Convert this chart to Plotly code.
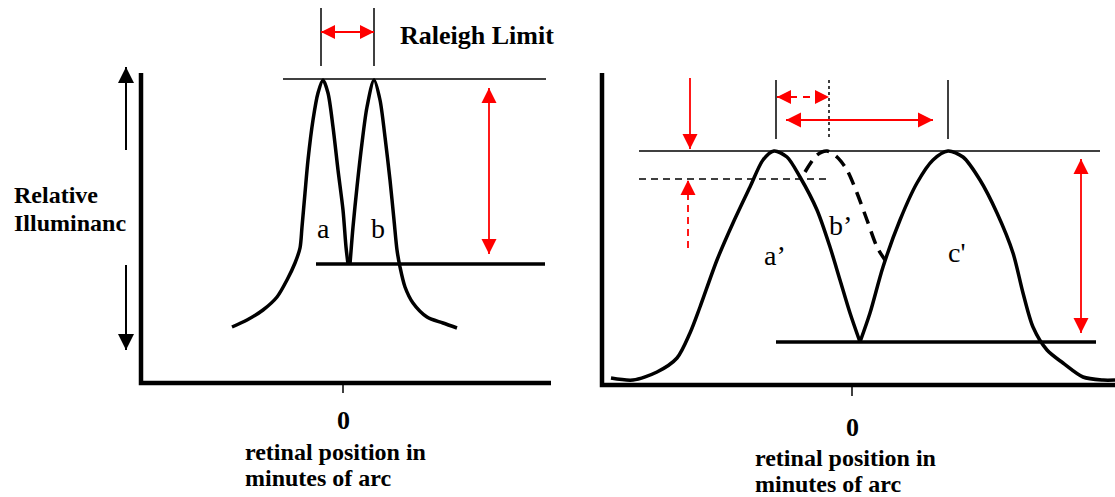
import plotly.graph_objects as go

# diagram drawn in page-pixel units (x to the right, y downward)
W, H = 1115, 497

# left panel: two narrow peaks a and b
peak_a_x = [232, 247, 263, 277, 287, 295, 300, 302, 305, 308, 313, 318, 323, 328, 333, 338, 343, 346, 348]
peak_a_y = [327, 320, 310, 297, 280, 263, 248, 227, 193, 160, 120, 93, 80, 93, 127, 170, 210, 247, 264]
peak_b_x = [350, 353, 357, 362, 367, 374, 380, 385, 390, 394, 397, 400, 405, 413, 427, 443, 457]
peak_b_y = [264, 227, 187, 143, 107, 80, 100, 137, 180, 220, 250, 267, 287, 303, 317, 323, 328]

# right panel: wide peaks a', c' and dashed b'
peak_a2_x = [611, 633, 657, 677, 690, 700, 717, 733, 750, 763, 774, 787, 800, 817, 830, 840, 850, 860]
peak_a2_y = [378, 380, 372, 358, 333, 307, 260, 223, 187, 160, 151, 157, 177, 210, 247, 280, 313, 342]
peak_c2_x = [860, 870, 883, 900, 917, 933, 948, 963, 980, 997, 1013, 1023, 1033, 1047, 1063, 1083, 1103, 1115]
peak_c2_y = [342, 313, 267, 220, 183, 160, 151, 157, 180, 213, 253, 293, 327, 350, 363, 377, 380, 380]
peak_b2_x = [805, 817, 827, 837, 847, 857, 867, 877, 885]
peak_b2_y = [172, 155, 151, 157, 170, 193, 220, 247, 260]

FONT = "Liberation Serif"
RED = "#ff0000"

fig = go.Figure()


def line(xs, ys, width=2, color="black", dash="solid", spline=False):
    fig.add_trace(go.Scatter(
        x=xs, y=ys, mode="lines",
        line=dict(color=color, width=width, dash=dash,
                  shape="spline" if spline else "linear", smoothing=0.8),
        hoverinfo="skip", showlegend=False))


def arrow(x0, y0, x1, y1, color=RED, width=1.8, dash="solid", both=False, size=14):
    # shaft + head(s) with the head tip sitting on the end point
    line([x0, x1], [y0, y1], width=width, color=color, dash=dash)
    def head(xa, ya, xb, yb):
        if xa == xb:
            return "arrow-down" if yb > ya else "arrow-up"
        return "arrow-right" if xb > xa else "arrow-left"
    xs, ys, syms = [x1], [y1], [head(x0, y0, x1, y1)]
    if both:
        xs.append(x0); ys.append(y0); syms.append(head(x1, y1, x0, y0))
    fig.add_trace(go.Scatter(
        x=xs, y=ys, mode="markers",
        marker=dict(symbol=syms, size=size, color=color, line=dict(width=0)),
        hoverinfo="skip", showlegend=False))


def text(x, y, s, size=24, bold=False, anchor="center"):
    fig.add_annotation(x=x, y=y, text=f"<b>{s}</b>" if bold else s, showarrow=False,
                       xanchor=anchor, yanchor="middle",
                       font=dict(family=FONT, size=size, color="black"))


# ---------- left panel ----------
line([141, 141, 551], [73, 383, 383], width=4.5)          # axes
line([343, 343], [383, 393], width=1.5)                   # zero tick
line([283, 546], [79, 79], width=1.5)                     # top reference
line([316, 545], [264, 264], width=3.5)                   # bottom reference
line([321, 321], [8, 66], width=1.5)
line([374, 374], [8, 66], width=1.5)
line(peak_a_x, peak_a_y, width=3.5, spline=True)
line(peak_b_x, peak_b_y, width=3.5, spline=True)
arrow(321, 32, 374, 32, both=True, size=14)
arrow(489, 88, 489, 254, both=True, size=15)
arrow(126, 150, 126, 67, color="black", width=2, size=16)
arrow(126, 265, 126, 350, color="black", width=2, size=16)

text(12, 195, "Relative", bold=True, anchor="left")
text(12, 223, "Illuminanc", bold=True, anchor="left")
text(398, 35, "Raleigh Limit", size=26, bold=True, anchor="left")
text(323, 228, "a", size=28)
text(378, 228, "b", size=28)
text(343, 420, "0", size=26, bold=True)
text(243, 452, "retinal position in", bold=True, anchor="left")
text(243, 478, "minutes of arc", bold=True, anchor="left")

# ---------- right panel ----------
line([602, 602, 1115], [73, 385, 385], width=4.5)
line([852, 852], [385, 396], width=1.5)
line([639, 1100], [151, 151], width=1.5)
line([639, 829], [179, 179], width=1.5, dash="7px,5px")
line([776, 1096], [342, 342], width=3.5)
line([776, 776], [80, 139], width=1.5)
line([829, 829], [80, 140], width=1.5, dash="3px,3px")
line([948, 948], [80, 139], width=1.5)
line(peak_a2_x, peak_a2_y, width=3.5, spline=True)
line(peak_c2_x, peak_c2_y, width=3.5, spline=True)
line(peak_b2_x, peak_b2_y, width=3.5, dash="13px,8px", spline=True)
arrow(777, 97, 829, 97, dash="7px,6px", both=True, size=14)
arrow(786, 120, 933, 120, both=True, size=15)
arrow(690, 78, 690, 149, size=15)
arrow(688, 248, 688, 180, dash="7px,5px", size=15)
arrow(1081, 159, 1081, 333, both=True, size=15)

text(775, 255, "a’", size=28)
text(840, 225, "b’", size=28)
text(956, 252, "c'", size=28)
text(852, 427, "0", size=26, bold=True)
text(753, 458, "retinal position in", bold=True, anchor="left")
text(753, 484, "minutes of arc", bold=True, anchor="left")

fig.update_layout(
    width=W, height=H, margin=dict(l=0, r=0, t=0, b=0),
    plot_bgcolor="white", paper_bgcolor="white",
    xaxis=dict(range=[0, W], visible=False, fixedrange=True),
    yaxis=dict(range=[H, 0], visible=False, fixedrange=True),
)
# drop the default page margin so diagram pixels line up with the window
fig.write_html("out.html", config={"displayModeBar": False},
               post_script="document.body.style.margin='0';document.body.style.overflow='hidden';")
